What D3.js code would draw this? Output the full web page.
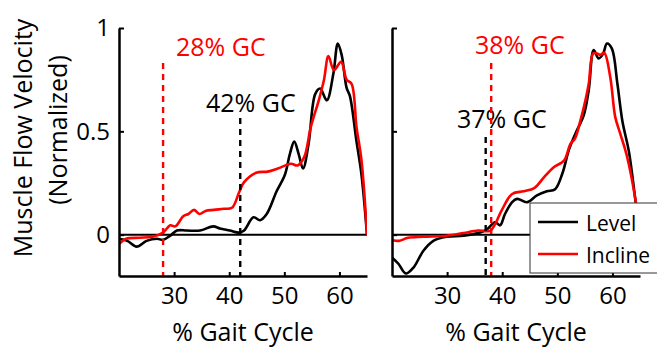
<!DOCTYPE html>
<html>
<head>
<meta charset="utf-8">
<script src="https://cdn.jsdelivr.net/npm/d3@7"></script>
<style>
  body { margin: 0; background: #fff; }
  text { font-family: "Open Sans", sans-serif; }
</style>
</head>
<body>
<div id="chart"></div>
<script>
// values: [ % gait cycle, normalized flow velocity ]
const leftLevel = [[20,-0.02],[21.5,-0.03],[23.2,-0.058],[25,-0.03],[26.9,-0.02],[28,-0.025],[29.3,-0.005],
  [30.5,0.02],[32.3,0.02],[34.7,0.02],[37.1,0.04],[38.3,0.03],[40.1,0.02],[41.8,0.01],[42.7,0.02],
  [44.4,0.084],[45.6,0.07],[46.8,0.10],[48.6,0.21],[50.1,0.29],[51,0.39],[51.8,0.45],[52.6,0.39],
  [53.4,0.32],[54.4,0.44],[55.6,0.68],[56.5,0.707],[57.7,0.65],[58.9,0.78],[59.7,0.925],[60.4,0.87],
  [61.3,0.71],[61.9,0.67],[63.1,0.45],[64,0.29],[65,0]];
const leftIncline = [[20,-0.045],[21.3,-0.02],[23.7,-0.015],[26.1,-0.01],[28,0.01],[29.3,0.045],[30.2,0.04],
  [31.7,0.09],[32.6,0.1],[33.6,0.12],[34.6,0.1],[35.7,0.115],[37.2,0.12],[39,0.125],[40.5,0.13],
  [41.8,0.205],[42.7,0.254],[44.9,0.30],[47,0.305],[48.8,0.32],[51.2,0.343],[52.4,0.335],[53.6,0.375],
  [54.8,0.52],[56.3,0.655],[57.2,0.75],[58,0.864],[59,0.796],[60.3,0.836],[61.3,0.75],[62.2,0.73],
  [63.1,0.52],[64,0.36],[65,0]];
const rightLevel = [[20,-0.11],[21.2,-0.142],[22.5,-0.188],[23.9,-0.159],[25.7,-0.078],[27.5,-0.03],
  [29.9,-0.01],[33,-0.005],[36,0.01],[37.2,0.025],[38.7,0.06],[39.6,0.045],[40.5,0.1],[41.8,0.157],
  [42.7,0.173],[44.5,0.157],[46.3,0.19],[48.1,0.21],[49.6,0.22],[50.9,0.295],[52.1,0.41],[53.3,0.49],
  [54.8,0.578],[55.7,0.70],[56.6,0.893],[57.5,0.853],[58.3,0.875],[59,0.925],[59.9,0.90],[60.9,0.73],
  [61.8,0.55],[63,0.40],[64.2,0.16],[65,0]];
const rightIncline = [[20,-0.026],[21.3,-0.03],[22.9,-0.015],[25.7,-0.01],[29.9,-0.005],[33,0.008],
  [35.6,0.02],[37.2,0.017],[37.9,0.02],[38.7,0.05],[39.9,0.117],[41.8,0.197],[43.9,0.21],[45.8,0.225],
  [47.6,0.278],[49.4,0.327],[51.2,0.358],[52.4,0.44],[53.2,0.465],[54.2,0.553],[55.1,0.65],[55.7,0.73],
  [56.5,0.877],[57.2,0.877],[57.8,0.87],[58.5,0.88],[59.6,0.763],[60.5,0.57],[61.4,0.49],[62.6,0.383],
  [64.2,0.165],[65,0]];

const xTicks = [30, 40, 50, 60];
const yTicks = [0, 0.5, 1];
const yTickLabels = ["0", "0.5", "1"];
const seriesNames = ["Level", "Incline"];
const seriesColors = ["#000000", "#ff0000"];
// onset markers: [level %GC, incline %GC]
const leftOnsets = [42, 28];
const rightOnsets = [37, 38];

const W = 657, H = 349;
const svg = d3.select("#chart").append("svg")
    .attr("width", W).attr("height", H);

const y = d3.scaleLinear().domain([-0.2, 1]).range([276, 28]);

function panel(series, onsets, x0, showY, labels) {
    const x = d3.scaleLinear().domain([20, 65]).range([x0, x0 + 248]);
    const g = svg.append("g");
    const id = "clip" + x0;
    svg.append("clipPath").attr("id", id)
       .append("rect").attr("x", x0).attr("y", 28).attr("width", 248).attr("height", 248);

    // zero line
    g.append("line")
     .attr("x1", x0).attr("x2", x0 + 248)
     .attr("y1", y(0)).attr("y2", y(0))
     .attr("stroke", "#000").attr("stroke-width", 2);

    const line = d3.line()
        .x(d => x(d[0])).y(d => y(d[1]))
        .curve(d3.curveCatmullRom.alpha(0.5));

    series.forEach((s, i) => {
        g.append("path")
         .datum(s)
         .attr("clip-path", "url(#" + id + ")")
         .attr("fill", "none")
         .attr("stroke", seriesColors[i])
         .attr("stroke-width", 2.6)
         .attr("stroke-linejoin", "round")
         .attr("d", line);
    });

    // dashed onset lines + labels
    onsets.forEach((o, i) => {
        g.append("line")
         .attr("x1", x(o)).attr("x2", x(o))
         .attr("y1", labels[i].top).attr("y2", 276)
         .attr("stroke", seriesColors[i])
         .attr("stroke-width", 2.4)
         .attr("stroke-dasharray", "6,5");
        g.append("text")
         .attr("x", labels[i].x).attr("y", labels[i].y)
         .attr("fill", seriesColors[i])
         .style("font-size", "25px")
         .text(o + "% GC");
    });

    // axes
    const xa = g.append("g")
        .attr("transform", "translate(0,276)")
        .call(d3.axisBottom(x).tickValues(xTicks).tickSizeInner(-4).tickSizeOuter(0));
    xa.select(".domain").attr("stroke-width", 2.5);
    xa.selectAll(".tick line").attr("stroke-width", 2);
    xa.selectAll(".tick text")
      .attr("y", 28).attr("dy", 0)
      .style("font-size", "24px")
      .style("font-family", "'Open Sans', sans-serif")
      .attr("fill", "#000");

    const ya = g.append("g")
        .attr("transform", "translate(" + x0 + ",0)")
        .call(d3.axisLeft(y).tickValues(yTicks).tickSizeInner(-5).tickSizeOuter(0)
            .tickFormat((d, i) => showY ? yTickLabels[i] : ""));
    ya.select(".domain").attr("stroke-width", 2.5);
    ya.selectAll(".tick line").attr("stroke-width", 2);
    ya.selectAll(".tick text")
      .attr("x", -9)
      .style("font-size", "24px")
      .style("font-family", "'Open Sans', sans-serif")
      .attr("fill", "#000");

    g.append("text")
     .attr("x", x0 + 124).attr("y", 341)
     .attr("text-anchor", "middle")
     .style("font-size", "25px")
     .text("% Gait Cycle");
    return x;
}

panel([leftLevel, leftIncline], leftOnsets, 119, true,
      [{x: 206, y: 112, top: 118}, {x: 176, y: 56, top: 63}]);
panel([rightLevel, rightIncline], rightOnsets, 392, false,
      [{x: 457, y: 128, top: 137}, {x: 475, y: 54, top: 63}]);

// y label
svg.append("text")
   .attr("transform", "translate(32,138) rotate(-90)")
   .attr("text-anchor", "middle")
   .style("font-size", "25px")
   .text("Muscle Flow Velocity");
svg.append("text")
   .attr("transform", "translate(67,130) rotate(-90)")
   .attr("text-anchor", "middle")
   .style("font-size", "25px")
   .text("(Normalized)");

// legend
const lg = svg.append("g");
lg.append("rect")
  .attr("x", 530).attr("y", 203).attr("width", 140).attr("height", 70)
  .attr("fill", "#fff").attr("stroke", "#333").attr("stroke-width", 1);
seriesNames.forEach((n, i) => {
    const yy = 222 + i * 32;
    lg.append("line")
      .attr("x1", 538).attr("x2", 578).attr("y1", yy).attr("y2", yy)
      .attr("stroke", seriesColors[i]).attr("stroke-width", 2.6);
    lg.append("text")
      .attr("x", 586).attr("y", yy + 9)
      .style("font-size", "21px")
      .text(n);
});
</script>
</body>
</html>
